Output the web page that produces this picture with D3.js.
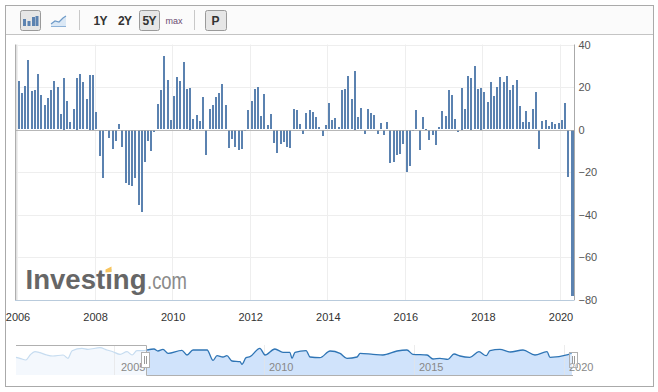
<!DOCTYPE html>
<html>
<head>
<meta charset="utf-8">
<script src="https://cdn.jsdelivr.net/npm/d3@7"></script>
<style>
html, body { margin: 0; padding: 0; background: #fff; }
svg { display: block; font-family: "Liberation Sans", Arial, sans-serif; }
</style>
</head>
<body>
<svg id="chart" width="658" height="392"></svg>
<script>
// monthly values, jan 2006 .. apr 2020
const values = [
  22.7, 17.1, 20.4, 32.6, 18, 18.5, 26, 16.2, 11.5, 14.7, 18.5, 22.7,
  19.9, 7.2, 24.2, 13.3, 3.5, 9.6, 24.2, 26, 22.3, 14.3, 25.6, 25.6,
  8.2, -12.1, -22.4, -0.4, -3.6, -8.8, -5, 2.5, -7.8, -24.8, -25.7, -26.2,
  -22.4, -35.1, -38.4, -14.9, -5, -9.7, -0.8, 11.9, 18.5, 34.5, 23.2, 4.4,
  15.7, 24.6, 22.7, 31.7, 19, 19.5, 4.9, 6.7, 3.9, 15.2, -11.6, 9.6,
  11.5, 15.2, 17.1, 21.3, 11.5, -8.3, -4.1, -7.8, -9.3, -8.8, -0.2, 9.1,
  13.3, 19, 19.9, 6.3, 16.6, 2, 7.2, -6, -10.7, -6.4, -5.5, -7.8,
  -8.3, 9.6, 9.1, 2.5, -1.7, 7.7, 9.1, 8.2, 5.8, 1.1, -2.7, 2,
  12.4, 4.4, 5.3, 1.1, 18.5, 19, 25.1, 14.3, 27.5, 5.8, 10, -1.7,
  9.6, 7.7, 6.7, -1.7, 3, -2.2, 3.5, -15.4, -14.9, -11.6, -11.1, -6.4,
  -19.6, -16.8, -0.2, 9.1, -9.3, 5.8, 0.2, -4.5, -2.2, -6.9, 1.1, 8.6,
  6.3, 18.5, 16.2, 4.9, -1.1, 19.5, 9.6, 25.1, 24.2, 29.8, 19, 19.5,
  17.6, 12.9, 22.3, 15.7, 19.9, 24.6, 22.3, 25.1, 18.5, 20.9, 23.2, 11,
  3.5, 8.6, 3.5, 9.6, 17.6, -8.8, 3.9, 4.4, 1.6, 3.5, 2.5, 3,
  4.4, 12.4, -22, -78
]
const yTicks = [40, 20, 0, -20, -40, -60, -80]
const xTickYears = [2006, 2008, 2010, 2012, 2014, 2016, 2018, 2020]

// navigator strip
const navYears = [2001.7, 2001.83, 2002.03, 2002.17, 2002.33, 2002.5, 2002.73, 2002.93, 2003.27, 2003.43, 2003.57, 2003.9, 2004.1, 2004.5, 2004.73, 2004.93,
  2005.17, 2005.4, 2005.57, 2005.73, 2005.93, 2006.07, 2006.3, 2006.43, 2006.6, 2006.77, 2007.23, 2007.4, 2007.6, 2008.07, 2008.27, 2008.4, 2008.6, 2008.73, 2008.9,
  2009.17, 2009.23, 2009.37, 2009.5, 2009.83, 2010, 2010.33, 2010.6, 2010.83, 2010.9, 2011, 2011.37, 2011.5, 2011.83, 2012.17, 2012.5, 2012.73, 2013.07, 2013.17, 2013.6, 2013.93,
  2014.4, 2014.73, 2014.93, 2015.4, 2015.6, 2015.83, 2016.1, 2016.3, 2016.5, 2016.83, 2017.13, 2017.37, 2017.5, 2017.83, 2018.17, 2018.6, 2019, 2019.4, 2019.5, 2020.1, 2020.23]
const navLevels = [17.7, 16.7, 15, 20, 23.3, 22.3, 20, 19, 20, 16.7, 24.3, 26.7, 25.7, 27.3, 25, 23.3,
  20.7, 23.3, 20, 24.3, 24.3, 25, 26, 24, 25.7, 21.7, 24.7, 20, 25, 25, 14.7, 19.3, 18, 19.3, 14,
  13.3, 10.7, 17.3, 18.3, 26.7, 20, 26, 22.7, 22.7, 16.7, 22.7, 24.3, 18, 17.3, 24, 21.7, 16.7, 18, 21.7, 20.7, 20,
  24, 25, 20.7, 20, 16, 16.7, 15.7, 21, 19, 17.7, 23.3, 19.3, 24.3, 25.7, 23, 25, 20, 23.3, 17.7, 20.3, 22]
const navTickYears = [2005, 2010, 2015, 2020]

const barColor = "#5b82b0"
const svg = d3.select("#chart")
const plotLeft = 17.5, plotRight = 574.5, plotTop = 44.5, plotBottom = 300

// frame + toolbar
svg.append("rect").attr("x", 5.5).attr("y", 5.5).attr("width", 648).attr("height", 381)
    .attr("fill", "#fff").attr("stroke", "#aaa").attr("stroke-width", 1)
svg.append("rect").attr("x", 6).attr("y", 6).attr("width", 647).attr("height", 28).attr("fill", "#fbfbfb")
svg.append("line").attr("x1", 6).attr("x2", 653).attr("y1", 34.5).attr("y2", 34.5).attr("stroke", "#c4c4c4")

function button(x, w){
    svg.append("rect").attr("x", x + .5).attr("y", 10.5).attr("width", w).attr("height", 20).attr("rx", 2)
        .attr("fill", "#e6e6e6").attr("stroke", "#9a9a9a")
}
button(20, 20)
button(139, 20)
button(205, 21)
;[79.5, 194.5].forEach(x => {
    svg.append("line").attr("x1", x).attr("x2", x).attr("y1", 10).attr("y2", 30).attr("stroke", "#c8c8c8")
})
// bar icon
;[[23, 6], [28, 4], [32, 8], [36, 9]].forEach((d, i) => {
    svg.append("rect").attr("x", [23, 27.5, 32, 35.5][i]).attr("y", 26 - d[1] - 1).attr("width", 3).attr("height", d[1] + 1).attr("fill", barColor)
})
// line icon
svg.append("path").attr("d", "M51 24 L55 21 L59 22 L63 18 L66 16 L66 27 L51 27 Z").attr("fill", "#dbe8f5")
svg.append("path").attr("d", "M51 24 L55 21 L59 22 L63 18 L66 16").attr("fill", "none").attr("stroke", "#6f9bc8").attr("stroke-width", 1.2)
svg.append("line").attr("x1", 51).attr("x2", 66).attr("y1", 26.5).attr("y2", 26.5).attr("stroke", "#8db2d8")

const toolbarLabels = [["1Y", 100.5], ["2Y", 125], ["5Y", 149.5], ["P", 215.5]]
toolbarLabels.forEach(d => {
    svg.append("text").attr("x", d[1]).attr("y", 24.5).attr("text-anchor", "middle")
        .attr("font-size", 12).attr("font-weight", 700).attr("fill", "#333").attr("textLength", d[0].length > 1 ? 14 : 8).text(d[0])
})
svg.append("text").attr("x", 174).attr("y", 23.5).attr("text-anchor", "middle").attr("font-size", 9).attr("fill", "#6b4a70").text("max")

// main scales
const x = d3.scaleUtc()
    .domain([Date.UTC(2006, 0, 1), Date.UTC(2020, 0, 1)])
    .range([17.5, 560.5])
const y = d3.scaleLinear().domain([40, -80]).range([plotTop, plotBottom])
const monthPos = i => x(Date.UTC(2006, i, 14))

// gridlines
svg.append("g").selectAll("line").data(yTicks).join("line")
    .attr("x1", plotLeft - 1).attr("x2", plotRight).attr("y1", d => Math.round(y(d)) + .5).attr("y2", d => Math.round(y(d)) + .5)
    .attr("stroke", "#eeeeee")
svg.append("g").selectAll("line").data(xTickYears).join("line")
    .attr("x1", d => Math.floor(x(Date.UTC(d, 0, 1))) + .5).attr("x2", d => Math.floor(x(Date.UTC(d, 0, 1))) + .5)
    .attr("y1", plotTop).attr("y2", plotBottom)
    .attr("stroke", "#eeeeee")

// bars
svg.append("g").selectAll("rect").data(values).join("rect")
    .attr("x", (d, i) => Math.round(monthPos(i) - 1))
    .attr("width", (d, i) => i == values.length - 1 ? 3 : 2)
    .attr("y", d => Math.round(Math.min(y(d), y(0))))
    .attr("height", d => Math.max(1, Math.round(Math.abs(y(d) - y(0)))))
    .attr("fill", barColor)

// zero line + axis lines
svg.append("line").attr("x1", 16).attr("x2", plotRight).attr("y1", Math.round(y(0)) + .5).attr("y2", Math.round(y(0)) + .5).attr("stroke", "#a9a9a9").attr("stroke-opacity", .8)
svg.append("line").attr("x1", 15.7).attr("x2", 15.7).attr("y1", plotTop).attr("y2", plotBottom).attr("stroke", "#aaa").attr("stroke-width", 1.3)
svg.append("line").attr("x1", 15).attr("x2", plotRight).attr("y1", plotBottom + .5).attr("y2", plotBottom + .5).attr("stroke", "#b9cbdc")

const yAxis = d3.axisRight(y).tickValues(yTicks).tickFormat(d3.format("d")).tickSize(0).tickPadding(4)
const gy = svg.append("g").attr("transform", `translate(${plotRight},0)`).call(yAxis)
gy.select(".domain").attr("stroke", "#aaa").attr("d", `M0,${plotTop}V${plotBottom}`)
gy.selectAll("text").attr("font-size", 11).attr("font-family", "Liberation Sans").attr("fill", "#555")

const xAxis = d3.axisBottom(x).tickValues(xTickYears.map(d => new Date(Date.UTC(d, 0, 1)))).tickFormat(d3.utcFormat("%Y")).tickSize(0).tickPadding(13)
const gx = svg.append("g").attr("transform", `translate(0,${plotBottom})`).call(xAxis)
gx.select(".domain").remove()
gx.selectAll("text").attr("font-size", 11).attr("font-family", "Liberation Sans").attr("fill", "#333")

// logo
svg.append("text").attr("x", 25.5).attr("y", 289).attr("font-size", 28).attr("font-weight", 700).attr("fill", "#666")
    .attr("textLength", 121).attr("lengthAdjust", "spacingAndGlyphs").text("Investing")
svg.append("path").attr("d", "M105.5 269.5 L111.5 266.5 L111.5 272 L105.5 272.5 Z").attr("fill", "#f8c45c")
svg.append("text").attr("x", 147).attr("y", 289).attr("font-size", 23).attr("font-weight", 400).attr("fill", "#8a8a8a")
    .attr("textLength", 40).attr("lengthAdjust", "spacingAndGlyphs").text(".com")

// navigator
const navX = d3.scaleLinear().domain([2005, 2020]).range([115, 565])
const navY = d3.scaleLinear().domain([0, 30]).range([375, 345])
const navStart = 146, navEnd = 573
const navPts = navYears.map((d, i) => [d, navLevels[i]])
const navLine = d3.line().x(d => navX(d[0])).y(d => navY(d[1])).curve(d3.curveMonotoneX)
const navArea = d3.area().x(d => navX(d[0])).y0(navY(0)).y1(d => navY(d[1])).curve(d3.curveMonotoneX)
const before = navPts.filter(d => navX(d[0]) <= navStart + 2)
const after = navPts.filter(d => navX(d[0]) >= navStart - 2)

svg.append("path").attr("d", navArea(before)).attr("fill", "#f4f8fd")
svg.append("path").attr("d", navArea(after)).attr("fill", "#d0e3fb")
svg.selectAll(".navTick").data(navTickYears).join("line").attr("class", "navTick")
    .attr("x1", d => navX(d) - .5).attr("x2", d => navX(d) - .5).attr("y1", 345).attr("y2", 375).attr("stroke", "#e4e4e4").attr("stroke-opacity", .7)
svg.append("path").attr("d", navLine(before)).attr("fill", "none").attr("stroke", "#c6dcf0").attr("stroke-width", 1.2)
svg.append("path").attr("d", navLine(after)).attr("fill", "none").attr("stroke", "#2f75b5").attr("stroke-width", 1.3)

svg.selectAll(".navLabel").data(navTickYears).join("text").attr("class", "navLabel")
    .attr("x", d => navX(d) + (d == 2005 ? 6 : 4)).attr("y", 371).attr("font-size", 11).attr("fill", "#888").text(d => d)

svg.append("path").attr("d", `M16 345.5H${navStart + .5}V375.5H${navEnd}`).attr("fill", "none").attr("stroke", "#b0b0b0")

function handle(hx, hy){
    svg.append("rect").attr("x", hx + .5).attr("y", hy + .5).attr("width", 8).attr("height", 15).attr("fill", "#fff").attr("fill-opacity", hx > 500 ? .3 : 1).attr("stroke", "#b0b0b0")
    ;[3, 5].forEach(o => {
        svg.append("line").attr("x1", hx + o + .5).attr("x2", hx + o + .5).attr("y1", hy + 4).attr("y2", hy + 12).attr("stroke", "#9a9a9a")
    })
}
handle(141, 352)
handle(569, 352)
</script>
</body>
</html>
